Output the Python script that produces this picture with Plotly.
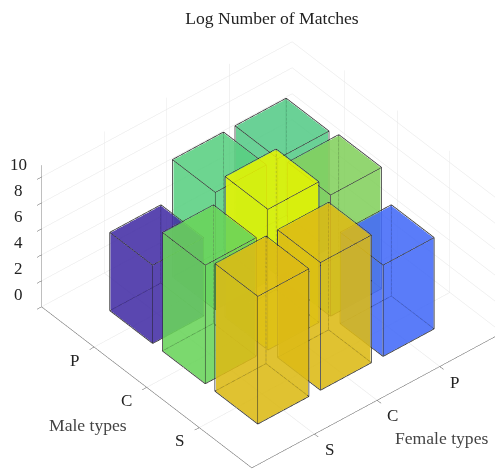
import math
import plotly.graph_objects as go

female_types = ["S", "C", "P"]
male_types = ["S", "C", "P"]
z_ticks = [0, 2, 4, 6, 8, 10]
# rows: male type, columns: female type
male_s_values = [9.8, 9.8, 7.0]
male_c_values = [9.1, 10.8, 9.3]
male_p_values = [6.0, 9.0, 9.0]

male_s_colors = ["#dcba15", "#dcba15", "#436af9"]
male_c_colors = ["#69d45a", "#e5f401", "#83d05e"]
male_p_colors = ["#432ea5", "#59cf81", "#55cb88"]

BAR = 0.8
EPS = 0.008
EPS_Z = 0.03
FONT = "Liberation Serif"
W, H = 503, 463
rows = [male_s_values, male_c_values, male_p_values]
cols = [male_s_colors, male_c_colors, male_p_colors]

fig = go.Figure()
ex, ey, ez = [], [], []
bars = [(i, j) for j in range(3) for i in range(3)]
bars.sort(key=lambda b: -(b[0] + b[1]))
for i, j in bars:
    h, c = rows[j][i], cols[j][i]
    x0, x1 = i + 1 - BAR / 2, i + 1 + BAR / 2
    y0, y1 = j + 1 - BAR / 2, j + 1 + BAR / 2
    xs = [x0, x1, x1, x0, x0, x1, x1, x0]
    ys = [y0, y0, y1, y1, y0, y0, y1, y1]
    zs = [0, 0, 0, 0, h, h, h, h]
    fig.add_trace(go.Mesh3d(
        x=xs, y=ys, z=zs,
        i=[0, 0, 1, 1, 2, 2, 3, 3, 0, 0, 4, 4],
        j=[1, 2, 2, 6, 3, 7, 0, 4, 1, 5, 5, 6],
        k=[2, 3, 6, 5, 7, 6, 4, 7, 5, 4, 6, 7],
        color=c, opacity=0.65, flatshading=True,
        lighting=dict(ambient=1, diffuse=0, specular=0, fresnel=0, roughness=1),
        hoverinfo="skip", showscale=False))
    lx = [x0 - EPS, x1 + EPS, x1 + EPS, x0 - EPS, x0 - EPS, x1 + EPS, x1 + EPS, x0 - EPS]
    ly = [y0 - EPS, y0 - EPS, y1 + EPS, y1 + EPS, y0 - EPS, y0 - EPS, y1 + EPS, y1 + EPS]
    lz = [0, 0, 0, 0, h + EPS_Z, h + EPS_Z, h + EPS_Z, h + EPS_Z]
    for a, b in [(0, 1), (1, 2), (2, 3), (3, 0), (4, 5), (5, 6), (6, 7), (7, 4),
                 (0, 4), (1, 5), (2, 6), (3, 7)]:
        ex += [lx[a], lx[b], None]
        ey += [ly[a], ly[b], None]
        ez += [lz[a], lz[b], None]

fig.add_trace(go.Scatter3d(x=ex, y=ey, z=ez, mode="lines",
                           line=dict(color="#2b2b2b", width=1.5),
                           hoverinfo="skip", showlegend=False))

phi, theta = math.radians(40), math.radians(40)
R = 1.37
center = dict(x=-0.0244, y=0.0548, z=0.0314)
eye = dict(x=-math.sin(phi) * math.cos(theta) * R + center["x"],
           y=-math.cos(phi) * math.cos(theta) * R + center["y"],
           z=math.sin(theta) * R + center["z"])
SCALE = 1.413

axis_common = dict(
    showbackground=False, showgrid=True, gridcolor="#e4e4e4", gridwidth=1,
    showline=True, linecolor="#555555", linewidth=1, zeroline=False,
    ticks="outside", ticklen=6, tickcolor="#555555", tickwidth=1,
    showticklabels=False, showspikes=False, title=dict(text=""),
)
tick_font = dict(family=FONT, size=17, color="#222222")


def tick_note(x, y, z, text, dx, dy):
    return dict(x=x, y=y, z=z, text=text, showarrow=False, xanchor="center", yanchor="middle",
                xshift=dx, yshift=dy, font=tick_font)


tick_notes = (
    [tick_note(0, 4, v, str(v), -23, 12) for v in z_ticks]
    + [tick_note(0, k + 1, 0, t, -20, -13) for k, t in enumerate(male_types)]
    + [tick_note(k + 1, 0, 0, t, 15, -15.5) for k, t in enumerate(female_types)]
)

fig.update_layout(
    width=W, height=H, autosize=False,
    margin=dict(l=0, r=0, t=0, b=0, pad=0, autoexpand=False), paper_bgcolor="white", showlegend=False,
    title=dict(text="Log Number of Matches", x=(272 - 8) / W, xanchor="center",
               y=1 - (18 - 8) / H, yanchor="middle",
               font=dict(family=FONT, size=17.6, color="#222222")),
    scene=dict(
        domain=dict(x=[0, 1], y=[0, 1]),
        xaxis=dict(axis_common, range=[0, 4], tickmode="array", tickvals=[1, 2, 3], ticktext=female_types),
        yaxis=dict(axis_common, range=[0, 4], tickmode="array", tickvals=[1, 2, 3], ticktext=male_types),
        zaxis=dict(axis_common, range=[0, 10.9], tickmode="array", tickvals=z_ticks,
                   ticktext=[str(v) for v in z_ticks]),
        aspectmode="manual", aspectratio=dict(x=SCALE, y=SCALE, z=0.565 * SCALE),
        camera=dict(eye=eye, up=dict(x=0, y=0, z=1), center=center,
                    projection=dict(type="orthographic")),
        annotations=tick_notes,
    ),
    annotations=[
        dict(text="Male types", x=(88 - 8) / W, y=1 - (425 - 8) / H, xref="paper", yref="paper",
             xanchor="center", yanchor="middle",
             showarrow=False, font=dict(family=FONT, size=17.6, color="#444444")),
        dict(text="Female types", x=(441 - 8) / W, y=1 - (438 - 8) / H, xref="paper", yref="paper",
             xanchor="center", yanchor="middle",
             showarrow=False, font=dict(family=FONT, size=17.6, color="#444444")),
    ],
)
fig.write_html("out.html", config=dict(displayModeBar=False))
